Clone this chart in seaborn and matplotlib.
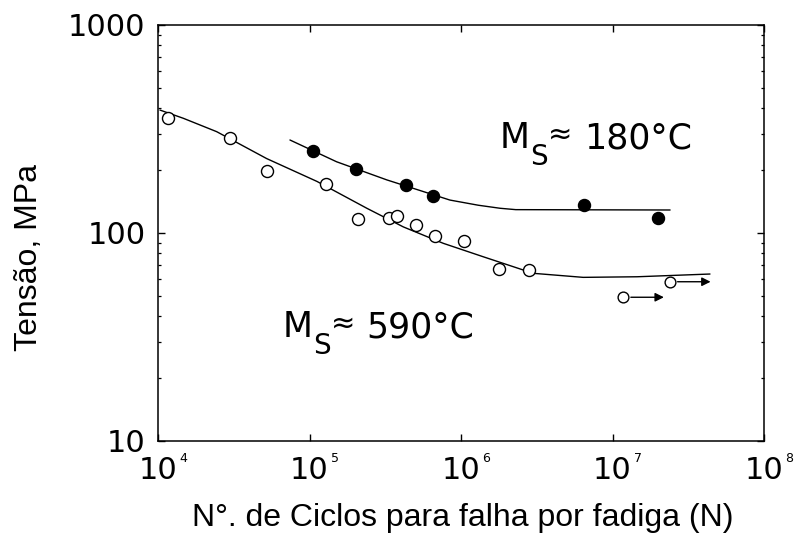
import numpy as np
import pandas as pd
import matplotlib
matplotlib.use("Agg")
import matplotlib.pyplot as plt
import seaborn as sns

# ---------------- data ----------------
open_N = [11700, 29900, 52100, 128000, 210000, 336000, 377000, 503000, 673000,
          1.05e6, 1.79e6, 2.81e6]
open_S = [356, 287, 199, 172, 117, 118.6, 121, 109, 97, 92, 67.2, 66.4]

runout_N = [1.18e7, 2.40e7]
runout_S = [49.1, 58.3]

filled_N = [106000, 203000, 434000, 656000, 6.49e6, 2.0e7]
filled_S = [248, 202, 170, 151, 137, 118]

curve180_N = [74300, 151000, 324000, 845000, 1.3e6, 1.81e6, 2.3e6, 2.4e7]
curve180_S = [280, 220, 180, 144, 136, 131.5, 129.5, 129]

curve590_N = [10300, 14700, 24400, 52100, 112000, 239000, 416000, 764000,
              1.40e6, 3.0e6, 6.4e6, 1.45e7, 4.4e7]
curve590_S = [390, 356, 307, 228, 177, 131.5, 107, 89.2, 76.9, 64.0, 61.2,
              61.6, 63.5]

label_180 = (1.81e6, 256)
label_590 = (66800, 31.6)

x_decades = [4, 5, 6, 7, 8]
y_ticks = [10, 100, 1000]
y_ticklabels = ["10", "100", "1000"]

xlabel = "N°. de Ciclos para falha por fadiga (N)"
ylabel = "Tensão, MPa"

# ---------------- styling ----------------
sns.set_style("ticks")
plt.rcParams["font.family"] = ["DejaVu Sans"]
plt.rcParams["text.color"] = "black"
plt.rcParams["axes.labelcolor"] = "black"
plt.rcParams["xtick.color"] = "black"
plt.rcParams["ytick.color"] = "black"
plt.rcParams["axes.edgecolor"] = "black"

fig = plt.figure(figsize=(7.95, 5.44), dpi=100)
ax = fig.add_axes([158 / 795, 103 / 544, 606 / 795, 416 / 544])

df_open = pd.DataFrame({"N": open_N, "S": open_S})
df_run = pd.DataFrame({"N": runout_N, "S": runout_S})
df_fill = pd.DataFrame({"N": filled_N, "S": filled_S})
df_c180 = pd.DataFrame({"N": curve180_N, "S": curve180_S})
df_c590 = pd.DataFrame({"N": curve590_N, "S": curve590_S})

ax.set_xscale("log")
ax.set_yscale("log")

sns.lineplot(data=df_c180, x="N", y="S", ax=ax, color="black", lw=1.0,
             sort=False, estimator=None)
sns.lineplot(data=df_c590, x="N", y="S", ax=ax, color="black", lw=1.0,
             sort=False, estimator=None)

sns.scatterplot(data=df_open, x="N", y="S", ax=ax, marker="o", s=75,
                facecolor="white", edgecolor="black", linewidth=1.0, zorder=3)
sns.scatterplot(data=df_run, x="N", y="S", ax=ax, marker="o", s=60,
                facecolor="white", edgecolor="black", linewidth=1.0, zorder=3)
sns.scatterplot(data=df_fill, x="N", y="S", ax=ax, marker="o", s=75,
                facecolor="black", edgecolor="black", linewidth=1.0, zorder=3)

# run-out arrows
for n, s in zip(runout_N, runout_S):
    ax.annotate("", xy=(n * 1.85, s), xytext=(n * 1.12, s),
                xycoords="data", textcoords="data",
                arrowprops=dict(arrowstyle="-|>", color="black", lw=1.0,
                                mutation_scale=13, shrinkA=0, shrinkB=0))

ax.set_xlim(1e4, 1e8)
ax.set_ylim(10, 1000)

# spines & ticks
for sp in ax.spines.values():
    sp.set_visible(True)
    sp.set_color("black")
    sp.set_linewidth(1.1)

ax.xaxis.set_minor_locator(matplotlib.ticker.NullLocator())
ax.set_xticks([10.0 ** e for e in x_decades])
ax.set_xticklabels(["10"] * len(x_decades))
ax.set_yticks(y_ticks)
ax.set_yticklabels(y_ticklabels)
ax.yaxis.set_minor_locator(matplotlib.ticker.LogLocator(base=10, subs=np.arange(2, 10)))
ax.yaxis.set_minor_formatter(matplotlib.ticker.NullFormatter())

ax.tick_params(axis="both", which="both", direction="in", top=True, right=True,
               color="black", labelcolor="black")
ax.tick_params(axis="both", which="major", length=5, width=1.0, labelsize=22)
ax.tick_params(axis="y", which="minor", length=2.5, width=0.9)
ax.tick_params(axis="x", which="major", pad=11)
ax.tick_params(axis="y", which="major", pad=9)

# small superscript exponents on x tick labels
for e in x_decades:
    ax.annotate(str(e), xy=(10.0 ** e, 0), xycoords=("data", "axes fraction"),
                xytext=(15.5, -8.0), textcoords="offset points",
                fontsize=9, ha="left", va="top", annotation_clip=False,
                color="black")

# axis labels
ax.set_xlabel(xlabel, fontsize=23, family="Liberation Sans", color="black")
ax.set_ylabel(ylabel, fontsize=23, family="Liberation Sans", color="black")
ax.xaxis.set_label_coords(0.503, -0.150)
ax.yaxis.set_label_coords(-0.188, 0.44)


def ms_label(anchor, temp):
    t_m = ax.annotate("M", xy=anchor, xycoords="data", fontsize=25,
                      ha="left", va="baseline", color="black")
    t_s = ax.annotate("S", xy=(1, anchor[1]), xycoords=(t_m, "data"),
                      xytext=(0.5, -12.5), textcoords="offset points",
                      fontsize=20, ha="left", va="baseline", color="black")
    t_eq = ax.annotate("≈", xy=(1, anchor[1]), xycoords=(t_s, "data"),
                       xytext=(0, 4), textcoords="offset points",
                       fontsize=21, ha="left", va="baseline", color="black")
    ax.annotate(temp, xy=(1, anchor[1]), xycoords=(t_eq, "data"),
                xytext=(8, 0), textcoords="offset points",
                fontsize=25, ha="left", va="baseline", color="black")


ms_label(label_180, "180°C")
ms_label(label_590, "590°C")

fig.savefig("out.png", dpi=100)
